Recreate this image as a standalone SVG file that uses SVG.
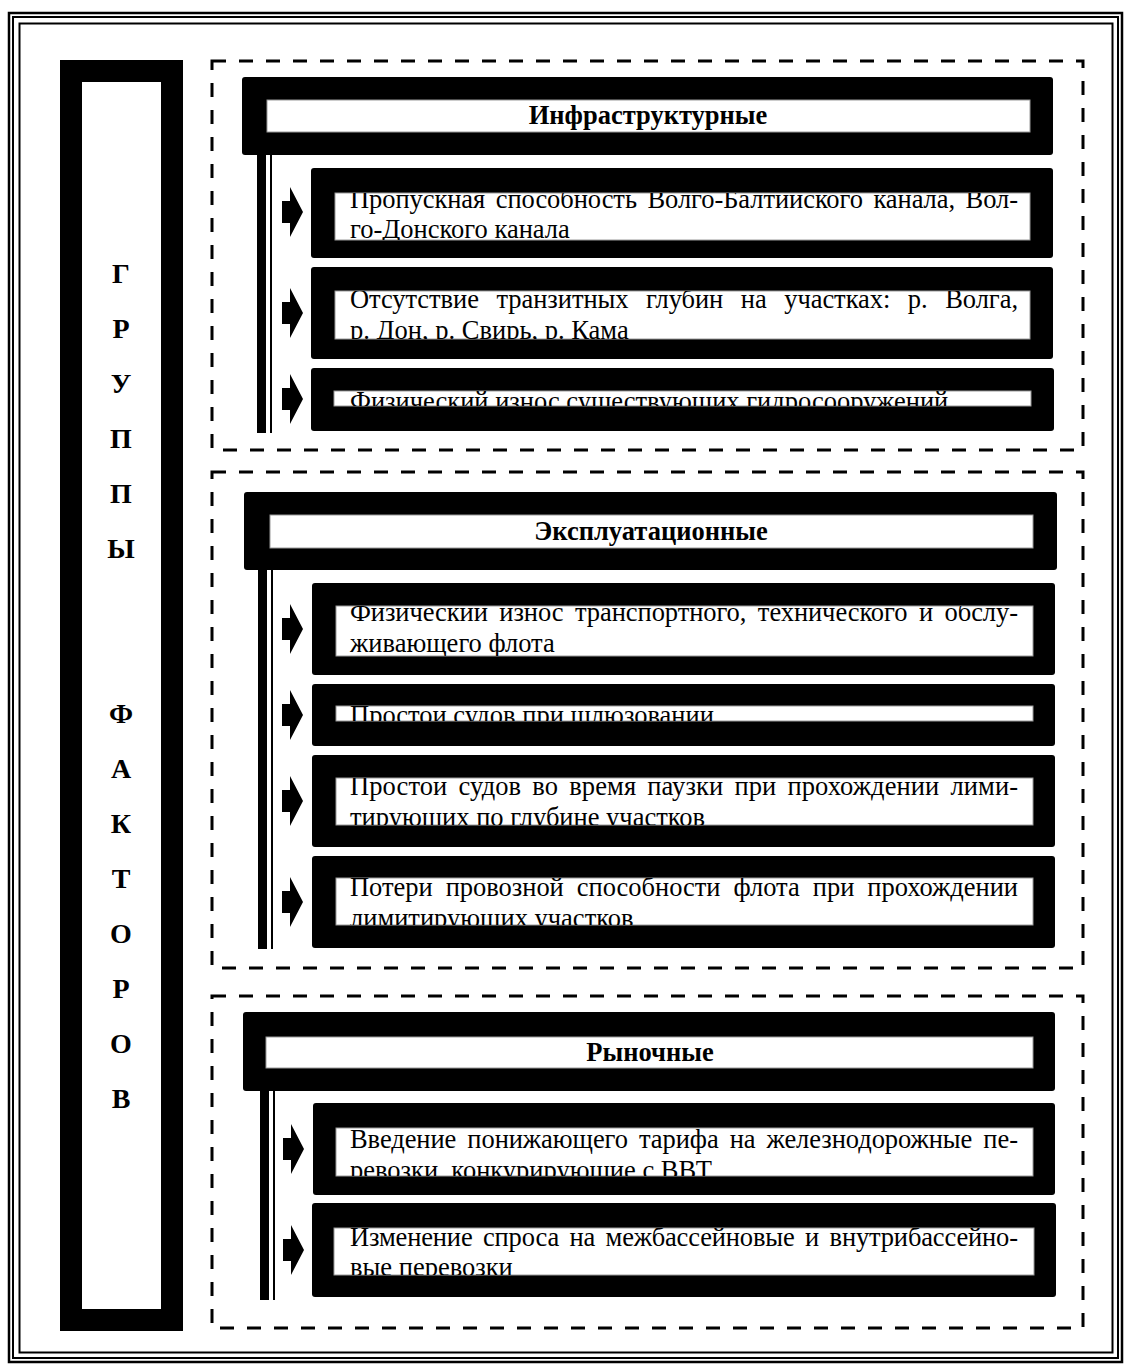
<svg xmlns="http://www.w3.org/2000/svg" width="1128" height="1366" viewBox="0 0 1128 1366">
<style>
.blk{fill:#000}
.wht{fill:#fff;stroke:#999;stroke-width:1}
.hdr{font-family:"Liberation Serif","Times New Roman",serif;font-weight:bold;font-size:26.5px;text-anchor:middle;fill:#000}
.txt{font-family:"Liberation Serif","Times New Roman",serif;font-size:26.5px;fill:#000}
.let{font-family:"Liberation Serif","Times New Roman",serif;font-weight:bold;font-size:28px;text-anchor:middle;fill:#000}
.dash{fill:none;stroke:#000;stroke-width:3;stroke-dasharray:14 13}
</style>
<defs>
<path id="arr" d="M0,-11 H8 V-25 L21,0 L8,25 V11 H0 Z" fill="#000"/>
<clipPath id="c11"><rect x="335" y="193" width="695" height="47"/></clipPath>
<clipPath id="c12"><rect x="335" y="291" width="695" height="48"/></clipPath>
<clipPath id="c13"><rect x="334" y="391" width="697" height="15"/></clipPath>
<clipPath id="c21"><rect x="336" y="606" width="697" height="50"/></clipPath>
<clipPath id="c22"><rect x="336" y="706" width="697" height="15"/></clipPath>
<clipPath id="c23"><rect x="336" y="778" width="697" height="47"/></clipPath>
<clipPath id="c24"><rect x="336" y="878" width="697" height="47"/></clipPath>
<clipPath id="c31"><rect x="336" y="1128" width="697" height="48"/></clipPath>
<clipPath id="c32"><rect x="334" y="1228" width="700" height="47"/></clipPath>
</defs>
<rect width="1128" height="1366" fill="#fff"/>
<g id="border" fill="none" stroke="#000">
<rect x="9" y="13" width="1113" height="1349" stroke-width="2.5"/>
<rect x="13" y="17" width="1105" height="1341" stroke-width="2"/>
<rect x="19.5" y="23.5" width="1093" height="1329" stroke-width="2"/>
</g>
<g id="groups-column">
<rect x="71" y="71" width="101" height="1249" fill="none" stroke="#000" stroke-width="22"/>
<text class="let" x="121" y="283">Г</text>
<text class="let" x="121" y="338">Р</text>
<text class="let" x="121" y="393">У</text>
<text class="let" x="121" y="448">П</text>
<text class="let" x="121" y="503">П</text>
<text class="let" x="121" y="558">Ы</text>
<text class="let" x="121" y="723">Ф</text>
<text class="let" x="121" y="778">А</text>
<text class="let" x="121" y="833">К</text>
<text class="let" x="121" y="888">Т</text>
<text class="let" x="121" y="943">О</text>
<text class="let" x="121" y="998">Р</text>
<text class="let" x="121" y="1053">О</text>
<text class="let" x="121" y="1108">В</text>
</g>
<g id="section-frames">
<rect class="dash" x="212" y="61" width="871" height="389"/>
<rect class="dash" x="212" y="472" width="871" height="496"/>
<rect class="dash" x="212" y="996" width="871" height="332"/>
</g>
<g id="connectors">
<rect class="blk" x="257" y="155" width="9" height="278"/>
<rect class="blk" x="270" y="155" width="2" height="278"/>
<rect class="blk" x="258" y="570" width="9" height="379"/>
<rect class="blk" x="271" y="570" width="2" height="379"/>
<rect class="blk" x="260" y="1091" width="9" height="209"/>
<rect class="blk" x="273" y="1091" width="2" height="209"/>
<use href="#arr" x="282" y="212"/>
<use href="#arr" x="282" y="313"/>
<use href="#arr" x="282" y="399"/>
<use href="#arr" x="282" y="629"/>
<use href="#arr" x="282" y="715"/>
<use href="#arr" x="282" y="801"/>
<use href="#arr" x="282" y="902"/>
<use href="#arr" x="283" y="1149"/>
<use href="#arr" x="283" y="1250"/>
</g>
<g id="h1">
<rect class="blk" x="242" y="77" width="811" height="78" rx="3"/>
<rect class="wht" x="267" y="100" width="763" height="32"/>
<text class="hdr" x="648" y="124">Инфраструктурные</text>
</g>
<g id="n11">
<rect class="blk" x="311" y="168" width="742" height="90" rx="3"/>
<rect class="wht" x="335" y="193" width="695" height="47"/>
<g clip-path="url(#c11)">
<text class="txt" x="350" y="208" word-spacing="4" textLength="668" lengthAdjust="spacing">Пропускная способность Волго-Балтийского канала, Вол-</text>
<text class="txt" x="350" y="238">го-Донского канала</text>
</g>
</g>
<g id="n12">
<rect class="blk" x="311" y="267" width="742" height="92" rx="3"/>
<rect class="wht" x="335" y="291" width="695" height="48"/>
<g clip-path="url(#c12)">
<text class="txt" x="350" y="308" word-spacing="11" textLength="668" lengthAdjust="spacing">Отсутствие транзитных глубин на участках: р. Волга,</text>
<text class="txt" x="350" y="339">р. Дон, р. Свирь,  р. Кама</text>
</g>
</g>
<g id="n13">
<rect class="blk" x="311" y="368" width="743" height="63" rx="3"/>
<rect class="wht" x="334" y="391" width="697" height="15"/>
<g clip-path="url(#c13)">
<text class="txt" x="350" y="410">Физический износ существующих гидросооружений</text>
</g>
</g>
<g id="h2">
<rect class="blk" x="244" y="492" width="813" height="78" rx="3"/>
<rect class="wht" x="270" y="515" width="763" height="33"/>
<text class="hdr" x="651" y="540">Эксплуатационные</text>
</g>
<g id="n21">
<rect class="blk" x="312" y="583" width="743" height="92" rx="3"/>
<rect class="wht" x="336" y="606" width="697" height="50"/>
<g clip-path="url(#c21)">
<text class="txt" x="350" y="621" word-spacing="5" textLength="668" lengthAdjust="spacing">Физический износ транспортного, технического и обслу-</text>
<text class="txt" x="350" y="652">живающего флота</text>
</g>
</g>
<g id="n22">
<rect class="blk" x="312" y="684" width="743" height="62" rx="3"/>
<rect class="wht" x="336" y="706" width="697" height="15"/>
<g clip-path="url(#c22)">
<text class="txt" x="350" y="724">Простои судов при шлюзовании</text>
</g>
</g>
<g id="n23">
<rect class="blk" x="312" y="755" width="743" height="92" rx="3"/>
<rect class="wht" x="336" y="778" width="697" height="47"/>
<g clip-path="url(#c23)">
<text class="txt" x="350" y="795" word-spacing="4.5" textLength="668" lengthAdjust="spacing">Простои судов во время паузки при прохождении лими-</text>
<text class="txt" x="350" y="826">тирующих по глубине участков</text>
</g>
</g>
<g id="n24">
<rect class="blk" x="312" y="856" width="743" height="92" rx="3"/>
<rect class="wht" x="336" y="878" width="697" height="47"/>
<g clip-path="url(#c24)">
<text class="txt" x="350" y="896" word-spacing="6.5" textLength="668" lengthAdjust="spacing">Потери провозной способности флота при прохождении</text>
<text class="txt" x="350" y="927">лимитирующих участков</text>
</g>
</g>
<g id="h3">
<rect class="blk" x="243" y="1012" width="812" height="79" rx="3"/>
<rect class="wht" x="266" y="1037" width="767" height="31"/>
<text class="hdr" x="650" y="1061">Рыночные</text>
</g>
<g id="n31">
<rect class="blk" x="313" y="1103" width="742" height="92" rx="3"/>
<rect class="wht" x="336" y="1128" width="697" height="48"/>
<g clip-path="url(#c31)">
<text class="txt" x="350" y="1148" word-spacing="4.5" textLength="668" lengthAdjust="spacing">Введение понижающего тарифа на железнодорожные пе-</text>
<text class="txt" x="350" y="1179">ревозки, конкурирующие с ВВТ</text>
</g>
</g>
<g id="n32">
<rect class="blk" x="312" y="1203" width="744" height="94" rx="3"/>
<rect class="wht" x="334" y="1228" width="700" height="47"/>
<g clip-path="url(#c32)">
<text class="txt" x="350" y="1246" word-spacing="4" textLength="668" lengthAdjust="spacing">Изменение спроса на межбассейновые и внутрибассейно-</text>
<text class="txt" x="350" y="1276">вые перевозки</text>
</g>
</g>
</svg>
